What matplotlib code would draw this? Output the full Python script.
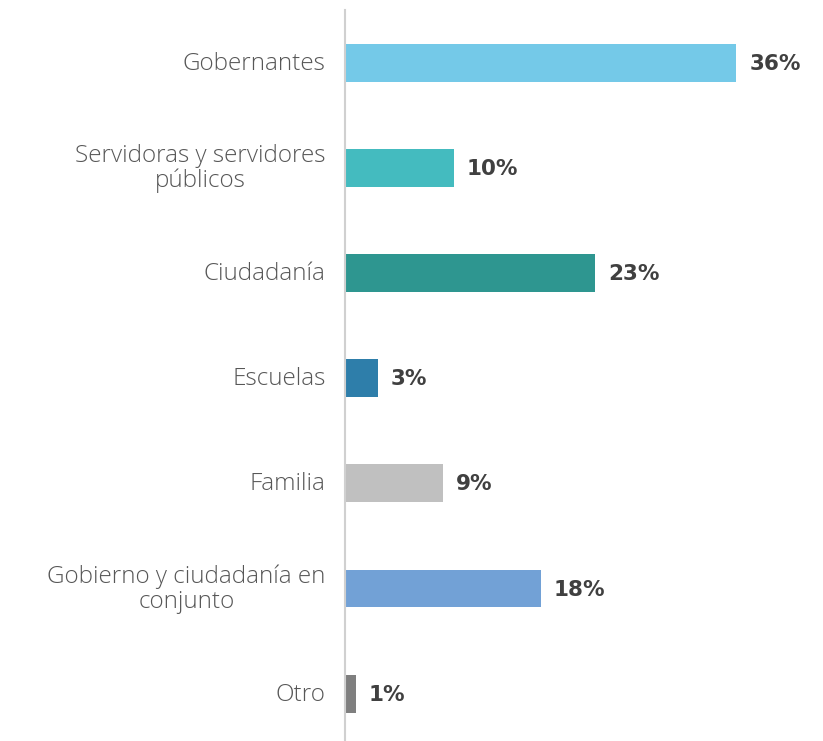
import matplotlib
matplotlib.use("Agg")
import matplotlib.pyplot as plt

categories = ["Gobernantes", "Servidoras y servidores\npúblicos", "Ciudadanía",
              "Escuelas", "Familia", "Gobierno y ciudadanía en\nconjunto", "Otro"]
values = [36, 10, 23, 3, 9, 18, 1]
colors = ["#74C9E8", "#44BBBF", "#2E9690", "#2E7EAA", "#C0C0C0", "#72A1D6", "#7F7F7F"]
value_labels = ["36%", "10%", "23%", "3%", "9%", "18%", "1%"]

fig = plt.figure(figsize=(8.23, 7.41), dpi=100)
ax = fig.add_axes([345/823, 0, 1 - 345/823, 1 - 10/741])
y = list(range(len(categories)))
ax.barh(y, values, height=0.36, color=colors)
ax.set_xlim(0, 44)
ax.set_ylim(6.45, -0.5)
for s in ["top", "right", "bottom"]:
    ax.spines[s].set_visible(False)
ax.spines["left"].set_color("#D0D0D0")
ax.spines["left"].set_linewidth(1.5)
ax.set_xticks([])
ax.set_yticks([])
for yi, cat in zip(y, categories):
    ax.text(-1.8, yi + 0.01, cat, ha="right", va="center", multialignment="center",
            fontsize=17.5, color="#575757", family="Open Sans", fontweight="light",
            linespacing=1.04)
for yi, v, lab in zip(y, values, value_labels):
    ax.text(v + 1.2, yi + 0.01, lab, ha="left", va="center", fontsize=15.5,
            color="#404040", family="DejaVu Sans", fontweight="bold")
fig.savefig("out.png", dpi=100)
